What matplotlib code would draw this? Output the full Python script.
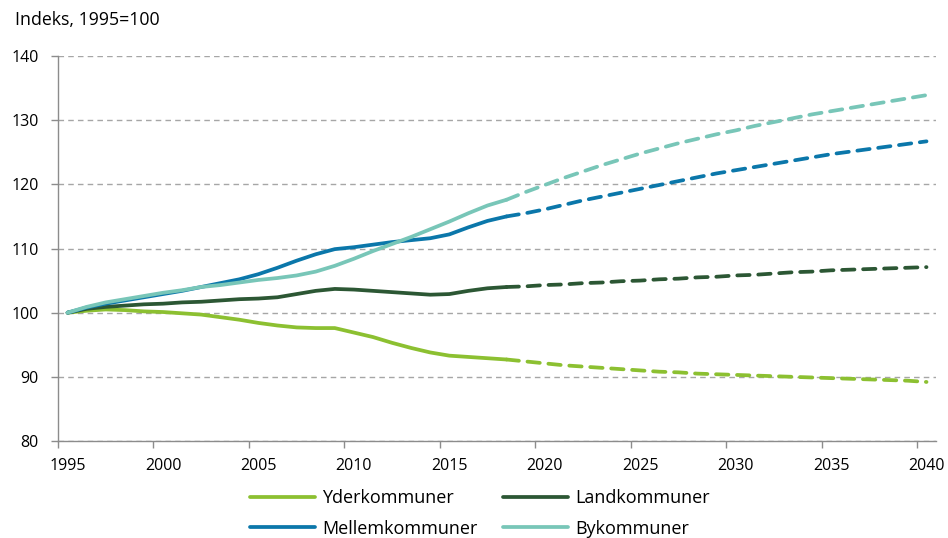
import numpy as np
import matplotlib.pyplot as plt

plt.rcParams['font.family'] = ['Open Sans', 'DejaVu Sans']

# historical 1995-2018
hist_years = list(range(1995, 2019))
yder_hist = [100.0, 100.3, 100.5, 100.4, 100.2, 100.1, 99.9, 99.7, 99.3, 98.9, 98.4, 98.0,
             97.7, 97.6, 97.6, 96.9, 96.2, 95.3, 94.5, 93.8, 93.3, 93.1, 92.9, 92.7]
land_hist = [100.0, 100.6, 100.9, 101.1, 101.3, 101.4, 101.6, 101.7, 101.9, 102.1, 102.2, 102.4,
             102.9, 103.4, 103.7, 103.6, 103.4, 103.2, 103.0, 102.8, 102.9, 103.4, 103.8, 104.0]
mellem_hist = [100.0, 100.8, 101.4, 101.9, 102.4, 102.9, 103.4, 104.0, 104.6, 105.2, 106.0, 107.0,
               108.1, 109.1, 109.9, 110.2, 110.6, 111.0, 111.3, 111.6, 112.2, 113.3, 114.3, 115.0]
by_hist = [100.0, 100.9, 101.6, 102.1, 102.6, 103.1, 103.5, 104.0, 104.3, 104.7, 105.1, 105.4,
           105.8, 106.4, 107.3, 108.4, 109.6, 110.7, 111.8, 113.0, 114.2, 115.5, 116.7, 117.6]

# projection 2018-2040
proj_years = list(range(2018, 2041))
yder_proj = [92.7, 92.4, 92.1, 91.8, 91.6, 91.4, 91.2, 91.0, 90.8, 90.7, 90.5, 90.4,
             90.3, 90.2, 90.1, 90.0, 89.9, 89.8, 89.7, 89.6, 89.5, 89.4, 89.2]
land_proj = [104.0, 104.1, 104.3, 104.4, 104.6, 104.7, 104.9, 105.0, 105.2, 105.3, 105.5, 105.6,
             105.8, 105.9, 106.1, 106.3, 106.4, 106.6, 106.7, 106.8, 106.9, 107.0, 107.1]
mellem_proj = [115.0, 115.5, 116.1, 116.8, 117.5, 118.1, 118.7, 119.3, 119.9, 120.5, 121.1, 121.7,
               122.2, 122.7, 123.2, 123.7, 124.2, 124.7, 125.1, 125.5, 125.9, 126.3, 126.7]
by_proj = [117.6, 118.8, 119.9, 121.0, 122.0, 123.0, 123.9, 124.8, 125.6, 126.4, 127.1, 127.8,
           128.4, 129.1, 129.7, 130.3, 130.9, 131.4, 131.9, 132.4, 132.9, 133.4, 133.9]

names = ['Yderkommuner', 'Landkommuner', 'Mellemkommuner', 'Bykommuner']
colors = ['#8cc031', '#2c5734', '#0b77aa', '#78c6b8']
hist = [yder_hist, land_hist, mellem_hist, by_hist]
proj = [yder_proj, land_proj, mellem_proj, by_proj]

fig = plt.figure(figsize=(9.48, 5.38), dpi=100)
ax = fig.add_axes([0.0612, 0.1803, 0.9262, 0.7156])

handles = []
for name, col, h, p in zip(names, colors, hist, proj):
    ln, = ax.plot(hist_years, h, color=col, lw=2.7, solid_capstyle='round', label=name, zorder=3)
    ax.plot(proj_years, p, color=col, lw=2.7, linestyle=(0, (3.3, 2.3)),
            dash_capstyle='round', zorder=3)
    handles.append(ln)

ax.set_xlim(1994.5, 2040.5)
ax.set_ylim(80, 140)
ax.set_yticks(range(80, 141, 10))
ax.yaxis.grid(True, color='#a6a6a6', linestyle=(0, (4, 3)), lw=1)
ax.set_axisbelow(True)

# labels on year centres, tick marks on category boundaries
ax.set_xticks(range(1995, 2041, 5))
ax.set_xticks(np.arange(1994.5, 2040, 5), minor=True)
ax.tick_params(axis='x', which='major', length=0, pad=12, labelsize=11.5, colors='black')
ax.tick_params(axis='x', which='minor', length=5, color='#8c8c8c', width=1)
ax.tick_params(axis='y', length=5, color='#8c8c8c', width=1, pad=9, labelsize=11.5)

for s in ['top', 'right']:
    ax.spines[s].set_visible(False)
for s in ['left', 'bottom']:
    ax.spines[s].set_color('#8c8c8c')
    ax.spines[s].set_linewidth(1)

fig.text(0.016, 0.962, 'Indeks, 1995=100', fontsize=12.8, va='center', ha='left')

# row order as in the original: Yder, Land / Mellem, By
order = [0, 2, 1, 3]
fig.legend(handles=[handles[i] for i in order], ncol=2, loc='center',
           bbox_to_anchor=(0.506, 0.046), frameon=False, fontsize=13,
           handlelength=3.6, columnspacing=1.4, labelspacing=0.7, handletextpad=0.4)

fig.savefig('out.png', dpi=100)
